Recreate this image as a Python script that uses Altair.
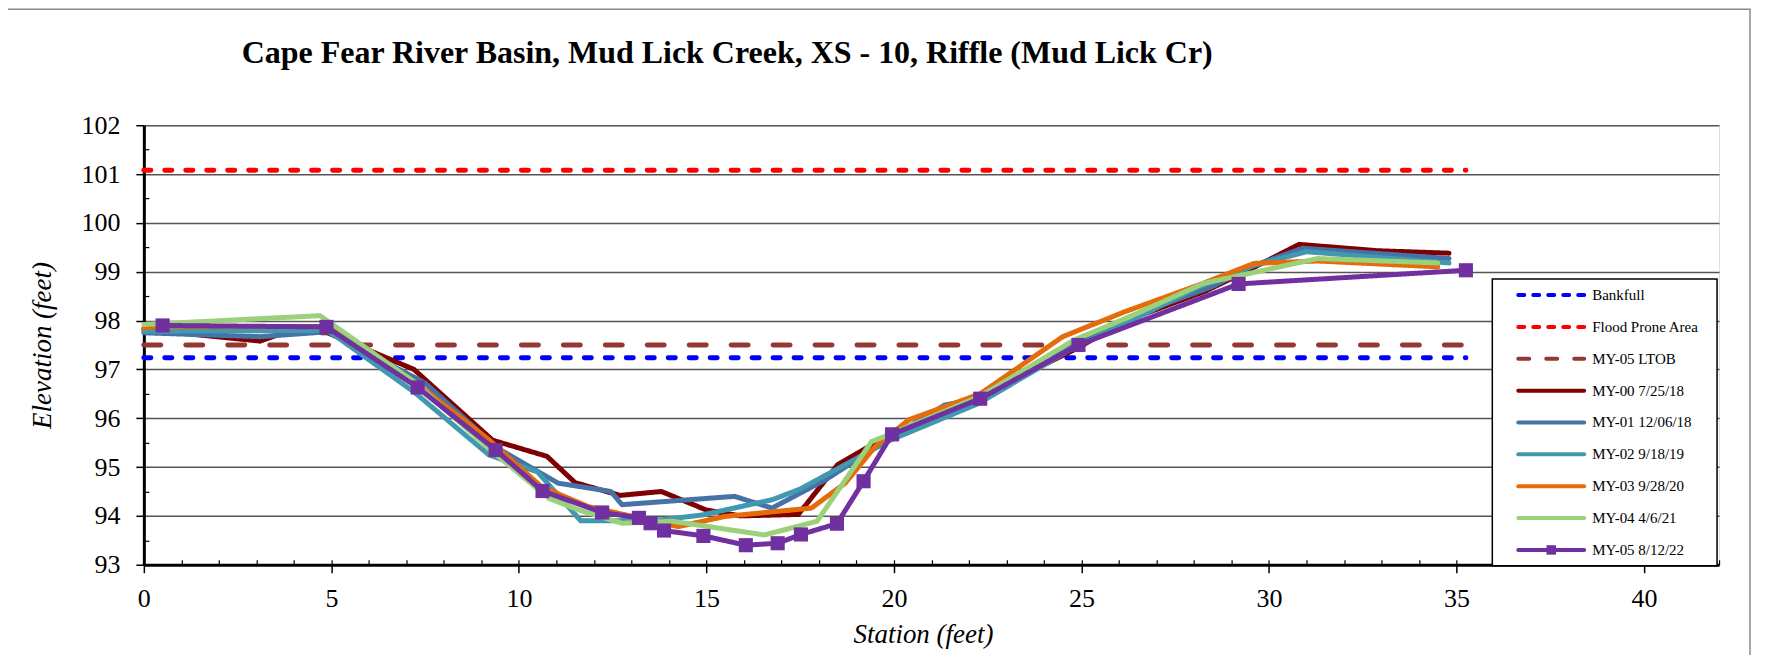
import altair as alt
import pandas as pd

# ---------------- data ----------------
series_names = ["Bankfull", "Flood Prone Area", "MY-05 LTOB", "MY-00 7/25/18",
                "MY-01 12/06/18", "MY-02 9/18/19", "MY-03 9/28/20",
                "MY-04 4/6/21", "MY-05 8/12/22"]

bankfull_x = [0, 35.25]
bankfull_y = [97.24, 97.24]
flood_x = [0, 35.25]
flood_y = [101.08, 101.08]
ltob_x = [0, 35.2]
ltob_y = [97.5, 97.5]

my00_x = [0, 3.1, 3.8, 4.9, 7.2, 9.3, 10.75, 11.5, 12.7, 13.8, 15.0, 15.9, 17.45,
          18.5, 19.4, 20.0, 21.4, 22.3, 24.8, 26.2, 28.3, 29.5, 30.8, 32.9, 34.8]
my00_y = [97.82, 97.58, 97.77, 97.75, 97.0, 95.55, 95.22, 94.68, 94.42, 94.5, 94.12,
          94.0, 94.03, 95.05, 95.45, 95.65, 96.2, 96.45, 97.4, 98.0, 98.6, 99.05,
          99.56, 99.43, 99.38]

my01_x = [0, 3.1, 4.9, 7.5, 9.4, 11.05, 12.45, 12.75, 15.75, 16.75, 18.2, 19.9,
          21.35, 22.3, 24.9, 26.2, 28.5, 29.5, 30.9, 34.8]
my01_y = [97.75, 97.67, 97.77, 96.72, 95.4, 94.67, 94.5, 94.23, 94.4, 94.16, 94.75,
          95.6, 96.27, 96.4, 97.55, 98.05, 98.7, 99.1, 99.48, 99.27]

my02_x = [0, 4.9, 7.2, 9.2, 10.5, 11.65, 12.5, 13.8, 14.9, 16.75, 17.5, 19.9, 22.25,
          24.8, 26.2, 28.1, 29.6, 31.0, 34.8]
my02_y = [97.78, 97.8, 96.54, 95.25, 94.9, 93.9, 93.9, 93.92, 94.02, 94.33, 94.55,
          95.55, 96.3, 97.45, 97.95, 98.68, 99.13, 99.41, 99.18]

my03_x = [0, 0.5, 4.9, 7.3, 9.2, 10.6, 11.85, 14.25, 15.5, 17.8, 18.7, 19.5, 20.4,
          22.3, 24.5, 26.15, 28.2, 29.6, 31.3, 34.5]
my03_y = [97.85, 97.88, 97.88, 96.7, 95.56, 94.6, 94.19, 93.78, 93.99, 94.16, 94.67,
          95.42, 95.97, 96.5, 97.67, 98.18, 98.75, 99.17, 99.22, 99.10]

my04_x = [0, 4.7, 7.2, 9.25, 10.8, 11.6, 12.75, 14.1, 16.55, 17.95, 19.4, 19.95,
          22.3, 24.8, 26.2, 28.25, 31.3, 34.5]
my04_y = [97.92, 98.1, 96.75, 95.35, 94.36, 94.12, 93.85, 93.89, 93.61, 93.89, 95.52,
          95.69, 96.45, 97.6, 98.05, 98.76, 99.27, 99.18]

my05_x = [0.5, 4.87, 7.3, 9.38, 10.63, 12.22, 13.2, 13.51, 13.87, 14.92, 16.05, 16.9,
          17.52, 18.48, 19.19, 19.95, 22.3, 24.92, 29.19, 35.25]
my05_y = [97.9, 97.87, 96.63, 95.35, 94.51, 94.07, 93.96, 93.85, 93.7, 93.59, 93.4,
          93.44, 93.62, 93.84, 94.71, 95.67, 96.4, 97.5, 98.75, 99.03]

x_ticks = [0, 5, 10, 15, 20, 25, 30, 35, 40]
x_minor = list(range(0, 43))
y_ticks = [93, 94, 95, 96, 97, 98, 99, 100, 101, 102]
y_minor = [93.5, 94.5, 95.5, 96.5, 97.5, 98.5, 99.5, 100.5, 101.5]

# ---------------- styles ----------------
colors = ["#0000FF", "#FF0000", "#953735", "#7F0000", "#4572A7", "#4198AF",
          "#E46C0A", "#9BD17A", "#7030A0"]
dashes = [[7, 14], [7, 14], [17, 25], [1, 0], [1, 0], [1, 0], [1, 0], [1, 0], [1, 0]]
widths = [5, 5, 5, 4, 5, 5, 5, 5, 5]
leg_dashes = [[6, 9], [6, 9], [11, 17], None, None, None, None, None, None]

FONT = "Liberation Serif"

all_xy = [(bankfull_x, bankfull_y), (flood_x, flood_y), (ltob_x, ltob_y),
          (my00_x, my00_y), (my01_x, my01_y), (my02_x, my02_y),
          (my03_x, my03_y), (my04_x, my04_y), (my05_x, my05_y)]

rows = []
for name, (xs, ys) in zip(series_names, all_xy):
    for i, (xv, yv) in enumerate(zip(xs, ys)):
        rows.append({"series": name, "station": xv, "elev": yv, "idx": i})
df = pd.DataFrame(rows)
df_my05 = pd.DataFrame({"station": my05_x, "elev": my05_y})

x_scale = alt.Scale(domain=[0, 42], nice=False, zero=False)
y_scale = alt.Scale(domain=[93, 102], nice=False, zero=False)

lines = alt.Chart(df).mark_line(strokeCap="round", strokeJoin="round").encode(
    x=alt.X("station:Q", scale=x_scale,
            axis=alt.Axis(values=x_ticks, title="Station (feet)", grid=False,
                          tickSize=8, tickWidth=1.5, tickColor="black",
                          domainColor="black", domainWidth=3,
                          labelFont=FONT, labelFontSize=26, labelColor="black",
                          labelPadding=13, labelFlush=False,
                          titleFont=FONT, titleFontSize=27, titleFontStyle="italic",
                          titleFontWeight="normal", titleColor="black",
                          titlePadding=10, titleX=780)),
    y=alt.Y("elev:Q", scale=y_scale,
            axis=alt.Axis(values=y_ticks, title="Elevation (feet)", grid=True,
                          gridColor="#555555", gridWidth=1.5,
                          tickSize=8, tickWidth=1.5, tickColor="black",
                          domainColor="black", domainWidth=3,
                          labelFont=FONT, labelFontSize=26, labelColor="black",
                          labelPadding=16, labelFlush=False,
                          titleFont=FONT, titleFontSize=27, titleFontStyle="italic",
                          titleFontWeight="normal", titleColor="black",
                          titlePadding=24)),
    color=alt.Color("series:N", scale=alt.Scale(domain=series_names, range=colors),
                    legend=None),
    strokeDash=alt.StrokeDash("series:N",
                              scale=alt.Scale(domain=series_names, range=dashes),
                              legend=None),
    strokeWidth=alt.StrokeWidth("series:N",
                                scale=alt.Scale(domain=series_names, range=widths),
                                legend=None),
    order="idx:Q",
)

markers = alt.Chart(df_my05).mark_square(size=200, color="#7030A0", opacity=1).encode(
    x=alt.X("station:Q",
            axis=alt.Axis(orient="bottom", offset=-5, values=x_minor, tickSize=5,
                          tickWidth=1.2, tickColor="black", labels=False,
                          domain=False, grid=False, title=None)),
    y=alt.Y("elev:Q",
            axis=alt.Axis(orient="left", offset=-5, values=y_minor, tickSize=5,
                          tickWidth=1.2, tickColor="black", labels=False,
                          domain=False, grid=False, title=None)),
)

one = pd.DataFrame({"a": [0]})

# outer chart-area frame (gray, top and right edges visible)
frame = alt.Chart(one).mark_rect(fill=None, stroke="#8c8c8c", strokeWidth=1.5).encode(
    x=alt.value(-160), x2=alt.value(1608), y=alt.value(-116), y2=alt.value(600))

# ---------------- legend (drawn box) ----------------
LEG_X0, LEG_X1, LEG_Y0, LEG_Y1 = 1350, 1575, 154, 441
ROW0, ROWSTEP = 170, 31.9
SYM0, SYM1, LAB_X = 1376, 1442, 1450

legend_layers = [
    alt.Chart(one).mark_rect(fill="white", stroke="black", strokeWidth=1.5).encode(
        x=alt.value(LEG_X0), x2=alt.value(LEG_X1),
        y=alt.value(LEG_Y0), y2=alt.value(LEG_Y1))
]
for i, name in enumerate(series_names):
    yy = ROW0 + ROWSTEP * i
    rule_kw = dict(color=colors[i], strokeWidth=4, strokeCap="round")
    if leg_dashes[i] is not None:
        rule_kw["strokeDash"] = leg_dashes[i]
    legend_layers.append(
        alt.Chart(one).mark_rule(**rule_kw).encode(
            x=alt.value(SYM0), x2=alt.value(SYM1), y=alt.value(yy)))
    legend_layers.append(
        alt.Chart(one).mark_text(text=name, align="left", baseline="middle",
                                 font=FONT, fontSize=15, color="black").encode(
            x=alt.value(LAB_X), y=alt.value(yy)))
    if i == len(series_names) - 1:
        legend_layers.append(
            alt.Chart(one).mark_square(size=90, color=colors[i], opacity=1).encode(
                x=alt.value((SYM0 + SYM1) / 2), y=alt.value(yy)))

chart = alt.layer(frame, lines, markers, *legend_layers).resolve_axis(
    x="independent", y="independent"
).properties(
    width=1577, height=440,
    padding={"left": 136, "top": 117, "right": 40, "bottom": 90},
    autosize=alt.AutoSizeParams(type="none"),
    title=alt.TitleParams(
        "Cape Fear River Basin, Mud Lick Creek, XS - 10, Riffle (Mud Lick Cr)",
        font=FONT, fontSize=32, fontWeight="bold", color="black",
        baseline="alphabetic",
        anchor="start", frame="group", dx=98, offset=-86),
).configure_view(stroke="black", strokeWidth=2.5
).configure(background="white")

chart.save("out.html", embed_options={"renderer": "svg", "actions": False})
